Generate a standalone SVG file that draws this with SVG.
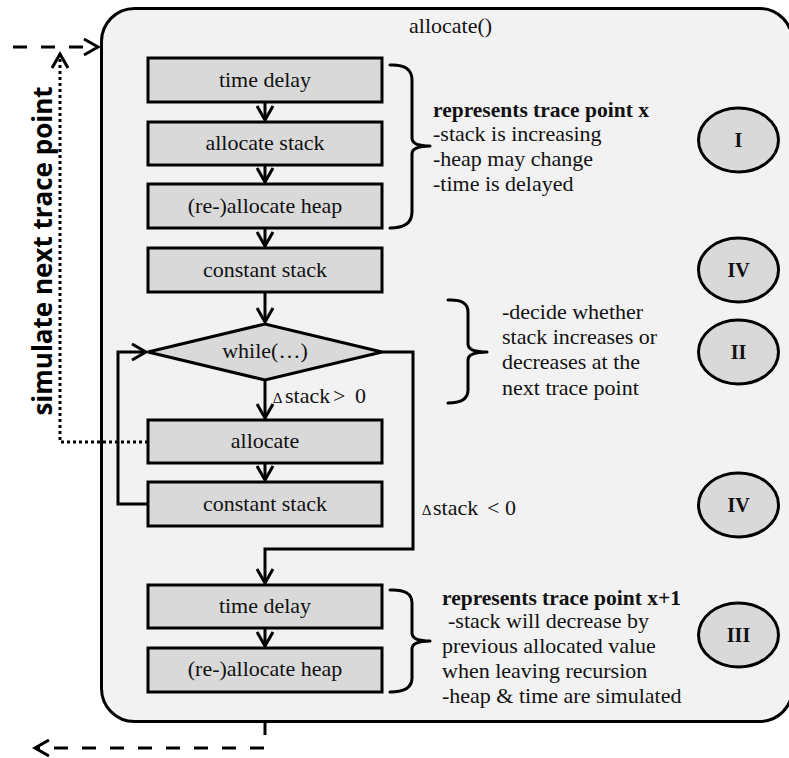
<svg xmlns="http://www.w3.org/2000/svg" width="789" height="758" viewBox="0 0 789 758">
  <defs>
    <marker id="chev" viewBox="-17 -11 22 22" refX="0" refY="0" markerWidth="22" markerHeight="22" markerUnits="userSpaceOnUse" orient="auto">
      <path d="M-14,-8 L0,0 L-14,8" fill="none" stroke="#000" stroke-width="3"/>
    </marker>
    <style>
      .frame { fill: #f2f2f2; stroke: #000; stroke-width: 3; }
      .box { fill: #d9d9d9; stroke: #000; stroke-width: 3; }
      .oval { fill: #d9d9d9; stroke: #000; stroke-width: 3; }
      .flow { fill: none; stroke: #000; stroke-width: 3; marker-end: url(#chev); }
      .dash { fill: none; stroke: #000; stroke-width: 3; stroke-dasharray: 14 14; marker-end: url(#chev); }
      .dot { fill: none; stroke: #000; stroke-width: 3; stroke-dasharray: 3 3; marker-end: url(#chev); }
      .brace { fill: none; stroke: #000; stroke-width: 3; stroke-linecap: round; }
      .t { font-family: "Liberation Serif", serif; font-size: 22px; fill: #111; }
      .c { text-anchor: middle; }
      .b { font-weight: bold; font-size: 21.5px; }
      .tri { font-size: 15px; }
      .num { font-family: "Liberation Serif", serif; font-size: 20px; font-weight: bold; fill: #111; text-anchor: middle; }
      .side { font-family: "Open Sans", "Liberation Sans", sans-serif; font-size: 26px; font-weight: bold; fill: #000; text-anchor: middle; }
    </style>
  </defs>

  <!-- enclosing function frame -->
  <g id="frame">
    <rect class="frame" x="101.5" y="8.5" width="691" height="713" rx="33" ry="33"/>
    <text class="t" x="409" y="33">allocate()</text>
  </g>

  <!-- connectors -->
  <g id="connectors">
    <path class="flow" d="M265,102 V120"/>
    <path class="flow" d="M265,165 V182"/>
    <path class="flow" d="M265,228 V246"/>
    <path class="flow" d="M265,292 V322"/>
    <path class="flow" d="M265,380 V418"/>
    <path class="flow" d="M265,463 V480"/>
    <path class="flow" d="M148,504 H118 V352 H146"/>
    <path class="flow" d="M382,352 H413 V549 H265 V583"/>
    <path class="flow" d="M265,628 V646"/>
    <path class="dash" d="M13,47 H98"/>
    <path class="dash" d="M265,721 V748 H35"/>
    <path class="dot" d="M148,442 H60 V54"/>
    <text class="t" x="273" y="403"><tspan class="tri">∆</tspan><tspan x="285">stack</tspan><tspan x="333">&gt;</tspan><tspan x="355">0</tspan></text>
    <text class="t" x="422" y="515"><tspan class="tri">∆</tspan><tspan x="433">stack</tspan><tspan x="487">&lt;</tspan><tspan x="505">0</tspan></text>
  </g>

  <text class="side" transform="translate(52,251) rotate(-90)">simulate next trace point</text>

  <g id="time-delay-1">
    <rect class="box" x="148" y="58" width="234" height="44"/>
    <text class="t c" x="265" y="87">time delay</text>
  </g>
  <g id="allocate-stack">
    <rect class="box" x="148" y="122" width="234" height="43"/>
    <text class="t c" x="265" y="150">allocate stack</text>
  </g>
  <g id="realloc-heap-1">
    <rect class="box" x="148" y="184" width="234" height="44"/>
    <text class="t c" x="265" y="213">(re-)allocate heap</text>
  </g>
  <g id="constant-stack-1">
    <rect class="box" x="148" y="248" width="234" height="44"/>
    <text class="t c" x="265" y="277">constant stack</text>
  </g>
  <g id="while">
    <polygon class="box" points="148,352 265,324 382,352 265,380"/>
    <text class="t c" x="265" y="358">while(…)</text>
  </g>
  <g id="allocate">
    <rect class="box" x="148" y="420" width="234" height="43"/>
    <text class="t c" x="265" y="448">allocate</text>
  </g>
  <g id="constant-stack-2">
    <rect class="box" x="148" y="482" width="234" height="44"/>
    <text class="t c" x="265" y="511">constant stack</text>
  </g>
  <g id="time-delay-2">
    <rect class="box" x="148" y="585" width="234" height="43"/>
    <text class="t c" x="265" y="613">time delay</text>
  </g>
  <g id="realloc-heap-2">
    <rect class="box" x="148" y="648" width="234" height="44"/>
    <text class="t c" x="265" y="676">(re-)allocate heap</text>
  </g>

  <!-- annotations -->
  <g id="note-trace-x">
    <path class="brace" d="M390,65 Q412,64 412,80 V138 Q412,146 430,146 M412,154 Q412,146 430,146 M412,154 V212 Q412,228 390,228"/>
    <text class="t b" x="433" y="117">represents trace point x</text>
    <text class="t" x="433" y="141">-stack is increasing</text>
    <text class="t" x="433" y="166">-heap may change</text>
    <text class="t" x="433" y="191">-time is delayed</text>
  </g>
  <g id="note-decide">
    <path class="brace" d="M448,300 Q468,299 468,312 V344 Q468,352 487,352 M468,360 Q468,352 487,352 M468,360 V390 Q468,403 448,403"/>
    <text class="t" x="502" y="319">-decide whether</text>
    <text class="t" x="502" y="344">stack increases or</text>
    <text class="t" x="502" y="369">decreases at the</text>
    <text class="t" x="502" y="395">next trace point</text>
  </g>
  <g id="note-trace-x1">
    <path class="brace" d="M390,590 Q412,589 412,603 V633 Q412,641 430,641 M412,649 Q412,641 430,641 M412,649 V678 Q412,692 390,692"/>
    <text class="t b" x="442" y="605">represents trace point x+1</text>
    <text class="t" x="448" y="628">-stack will decrease by</text>
    <text class="t" x="442" y="653">previous allocated value</text>
    <text class="t" x="442" y="678">when leaving recursion</text>
    <text class="t" x="442" y="703">-heap &amp; time are simulated</text>
  </g>

  <!-- phase markers -->
  <g id="phase-I">
    <ellipse class="oval" cx="738.5" cy="140" rx="40" ry="32"/>
    <text class="num" x="738.5" y="147">I</text>
  </g>
  <g id="phase-IV-a">
    <ellipse class="oval" cx="738.5" cy="270" rx="40" ry="32"/>
    <text class="num" x="738.5" y="277">IV</text>
  </g>
  <g id="phase-II">
    <ellipse class="oval" cx="738.5" cy="352" rx="40" ry="32"/>
    <text class="num" x="738.5" y="359">II</text>
  </g>
  <g id="phase-IV-b">
    <ellipse class="oval" cx="738.5" cy="505" rx="40" ry="32"/>
    <text class="num" x="738.5" y="512">IV</text>
  </g>
  <g id="phase-III">
    <ellipse class="oval" cx="738.5" cy="635" rx="40" ry="32"/>
    <text class="num" x="738.5" y="642">III</text>
  </g>
</svg>
